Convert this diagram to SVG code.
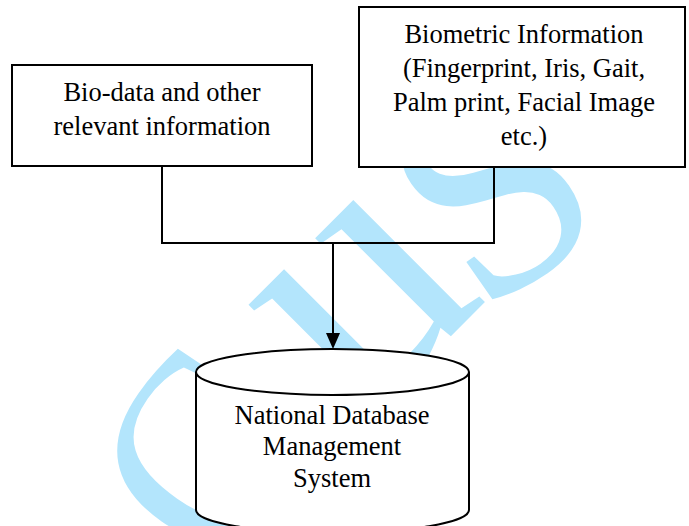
<svg xmlns="http://www.w3.org/2000/svg" width="689" height="526" viewBox="0 0 689 526">
  <defs>
    <style>
      .wm { font-family: "Liberation Serif", "Times New Roman", serif; fill: #b3e5fc; }
      .box { fill: #ffffff; stroke: #000000; stroke-width: 2; }
      .lbl { font-family: "Liberation Serif", "Times New Roman", serif; font-size: 26.5px; fill: #000000; text-anchor: middle; }
      .wire { fill: none; stroke: #000000; stroke-width: 2; }
    </style>
  </defs>
  <rect width="689" height="526" fill="#ffffff"/>
  <g id="watermark">
    <text class="wm" font-size="270" transform="translate(226,580) rotate(-55)">C</text>
    <text class="wm" font-size="360" transform="translate(362,425) rotate(-45)">u</text>
    <text class="wm" font-size="300" transform="translate(480,317) rotate(-35)">S</text>
  </g>
  <g id="connectors">
    <polyline class="wire" points="162,166 162,243 494,243 494,167"/>
    <line class="wire" x1="333" y1="243" x2="333" y2="334"/>
    <path d="M326,333 L340,333 L333,349 Z" fill="#000000"/>
  </g>
  <g id="biodata">
    <rect class="box" x="12" y="65" width="300" height="101"/>
    <text class="lbl" x="162" y="101">Bio-data and other</text>
    <text class="lbl" x="162" y="135">relevant information</text>
  </g>
  <g id="biometric">
    <rect class="box" x="359" y="7" width="326" height="160"/>
    <text class="lbl" x="524" y="43">Biometric Information</text>
    <text class="lbl" x="524" y="77">(Fingerprint, Iris, Gait,</text>
    <text class="lbl" x="524" y="111">Palm print, Facial Image</text>
    <text class="lbl" x="524" y="145">etc.)</text>
  </g>
  <g id="database">
    <path class="box" d="M196,372 L196,510 A136.5,23 0 0 0 469,510 L469,372"/>
    <ellipse class="box" cx="332.5" cy="372" rx="136.5" ry="23"/>
    <text class="lbl" x="332" y="424">National Database</text>
    <text class="lbl" x="332" y="455">Management</text>
    <text class="lbl" x="332" y="487">System</text>
  </g>
</svg>
